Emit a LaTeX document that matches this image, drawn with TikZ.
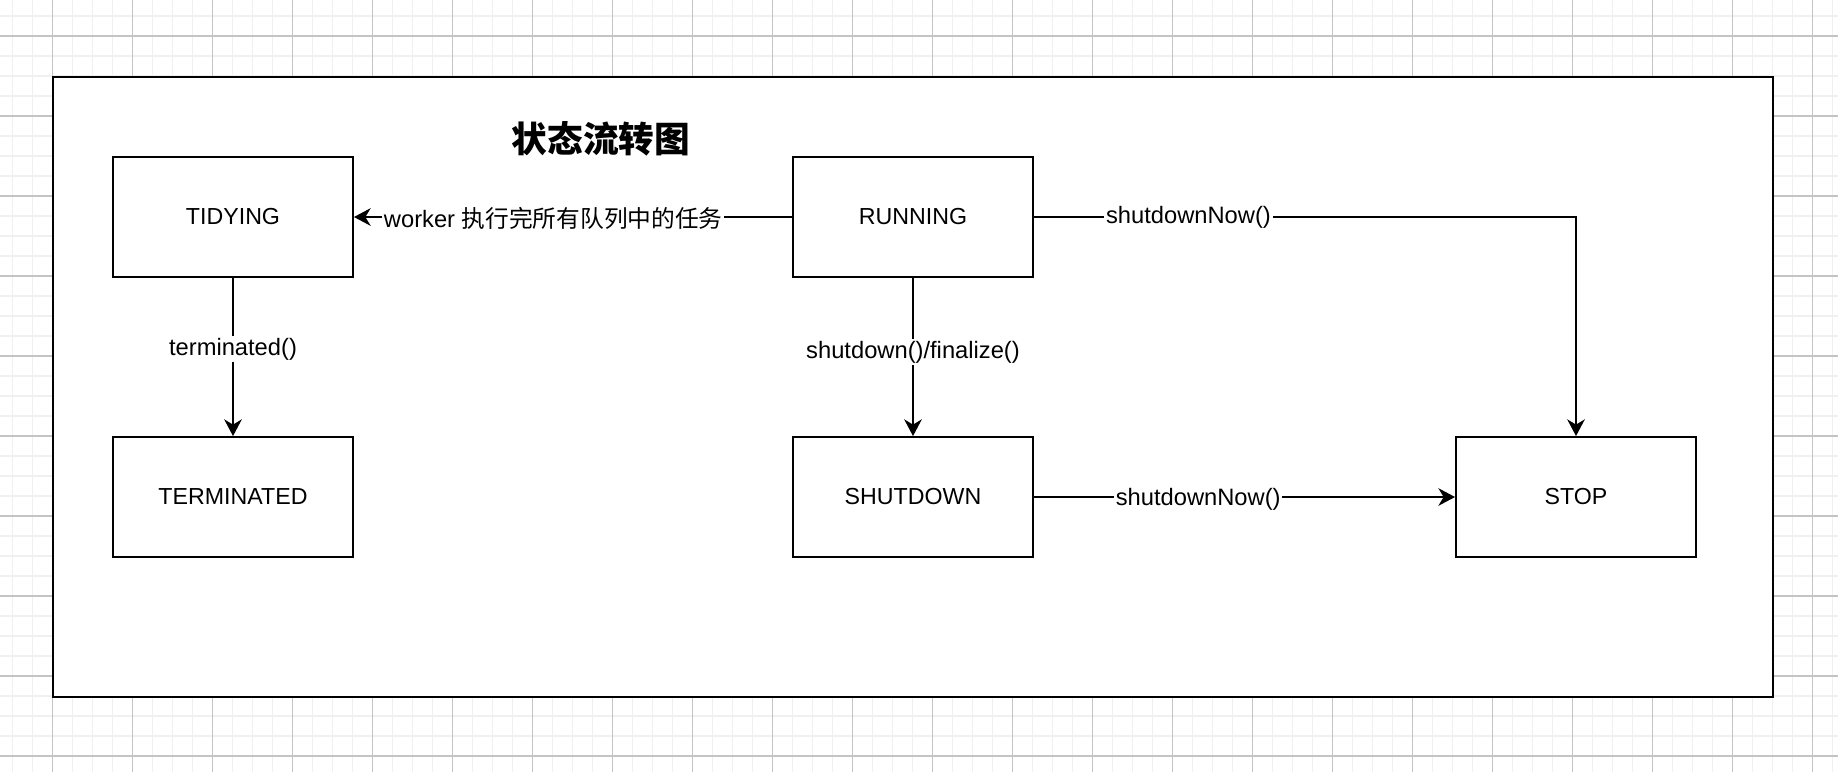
\documentclass[tikz,border=0pt]{standalone}
\usepackage{fontspec}
\setmainfont{Liberation Sans}
\newfontfamily\cjk{Noto Sans CJK SC}
\usetikzlibrary{arrows.meta}
\definecolor{gridminor}{HTML}{F0F0F0}
\definecolor{gridmajor}{HTML}{C4C4C4}

\begin{document}
\begin{tikzpicture}[x=0.02cm, y=-0.02cm,
    state/.style={draw, line width=1.1pt, fill=white, minimum width=4.8cm,
      minimum height=2.4cm, font=\fontsize{13.2}{15}\selectfont},
    conn/.style={line width=1.1pt, -{Stealth[length=9.5pt, width=10pt, inset=3pt]}},
    lbl/.style={fill=white, inner sep=1pt, font=\fontsize{13.5}{15}\selectfont}]
  \useasboundingbox (0,0) rectangle (1838,772);
  % grid behind the page
  \foreach \gx in {0,...,91}
    \draw[gridminor, line width=0.6pt] (12.5+20*\gx,0) -- (12.5+20*\gx,772);
  \foreach \gy in {0,...,37}
    \draw[gridminor, line width=0.6pt] (0,16+20*\gy) -- (1838,16+20*\gy);
  \foreach \gx in {0,...,22}
    \draw[gridmajor, line width=0.6pt] (52.5+80*\gx,0) -- (52.5+80*\gx,772);
  \foreach \gy in {0,...,9}
    \draw[gridmajor, line width=0.6pt] (0,36+80*\gy) -- (1838,36+80*\gy);
  % page
  \draw[line width=1.1pt, fill=white] (53,77) rectangle (1773,697);
  \node (title) at (601,139) {\cjk\bfseries\fontsize{20.3}{24}\selectfont 状态流转图};
  % states
  \node[state] (tidying) at (233,217) {TIDYING};
  \node[state] (terminated) at (233,497) {TERMINATED};
  \node[state] (running) at (913,217) {RUNNING};
  \node[state] (shutdown) at (913,497) {SHUTDOWN};
  \node[state] (stop) at (1576,497) {STOP};
  % transitions
  \draw[conn] (running.west) -- node[lbl, pos=0.545, yshift=-1pt]{worker {\cjk 执行完所有队列中的任务}} (tidying.east);
  \draw[conn] (tidying.south) -- node[lbl, pos=0.45]{terminated()} (terminated.north);
  \draw[conn] (running.south) -- node[lbl, pos=0.47]{shutdown()/finalize()} (shutdown.north);
  \draw[conn] (running.east) -- node[lbl, pos=0.285]{shutdownNow()} (stop.north |- running.east) -- (stop.north);
  \draw[conn] (shutdown.east) -- node[lbl, pos=0.39, yshift=-1.5pt]{shutdownNow()} (stop.west);
\end{tikzpicture}
\end{document}
